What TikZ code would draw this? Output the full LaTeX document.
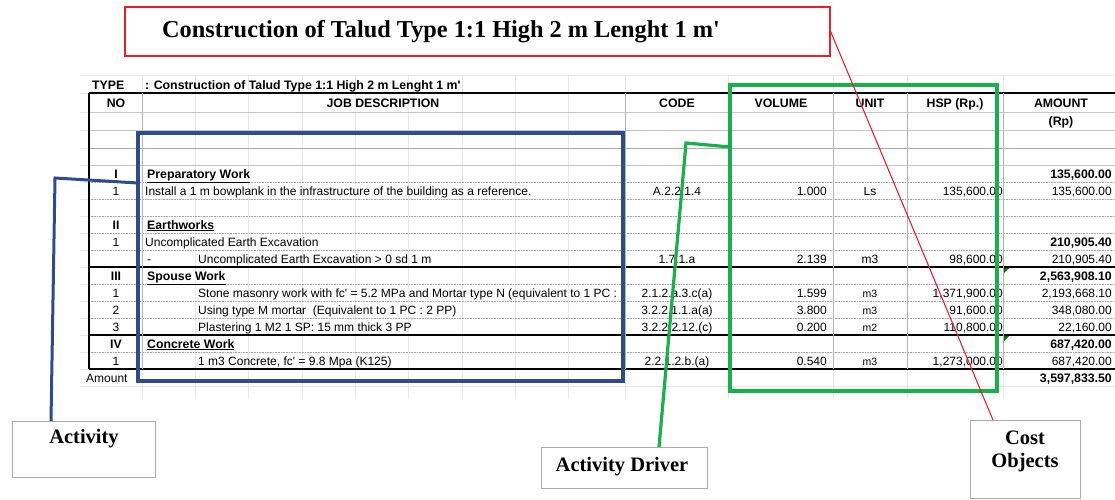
\documentclass[tikz,border=0pt]{standalone}
\usepackage{fontspec}
\setmainfont{Liberation Serif}
\newfontfamily\arialf{Liberation Sans}
\definecolor{bbox}{HTML}{2F4B8A}
\definecolor{gbox}{HTML}{17B04B}
\definecolor{rbox}{HTML}{E8202A}
\begin{document}
\begin{tikzpicture}[x=1pt,y=-1pt,
  tx/.style={font=\arialf\fontsize{12}{13}\selectfont, inner sep=0pt},
  txb/.style={font=\arialf\bfseries\fontsize{12.3}{13}\selectfont, inner sep=0pt},
  txs/.style={font=\arialf\fontsize{10.5}{12}\selectfont, inner sep=0pt},
  faint/.style={gray!18, line width=0.6},
  rowln/.style={gray!45, line width=0.6},
  dotln/.style={gray!70, line width=0.6, dash pattern=on 0.8pt off 0.8pt},
  thickln/.style={black, line width=1.3},
  colln/.style={gray!60, line width=0.8},
  labbox/.style={draw=gray!65, line width=0.9, fill=white, inner sep=0, outer sep=0, anchor=north west},
  labtxt/.style={font=\bfseries\fontsize{20.5}{23}\selectfont, inner sep=0, align=center},
  hl/.style={inner sep=0, outer sep=0, anchor=north west, fill=none},
  cmark/.style={fill=black!55!green}
]
\useasboundingbox (0,0) rectangle (1115,500);
\fill[white] (0,0) rectangle (1115,500);

% faint spreadsheet gridlines
\foreach \x in {142,195,248,302,355,408,462,515,568,625,728,833,907,1003}
  \draw[faint] (\x,75) -- (\x,398);
\foreach \y in {75,93,112,130,148,165,182,199,216,233,250,267,284,301,318,335,352,369,386}
  \draw[faint] (80,\y) -- (1115,\y);

% table rules
\foreach \y in {112,130,165} \draw[rowln] (89,\y) -- (1115,\y);
\draw[gray!65, line width=0.8] (89,148) -- (1115,148);
\foreach \y in {182,199,216,233,250,284,301,318,352} \draw[dotln] (89,\y) -- (1115,\y);
\foreach \y in {267,335,369} \draw[thickln] (89,\y) -- (1115,\y);
\draw[black, line width=1.4] (89,93) -- (1115,93);
\foreach \x in {142,625,728,833,907,1003} \draw[colln] (\x,93) -- (\x,369);
\draw[thickln] (89,93) -- (89,369);

% comment markers
\fill[cmark] (1004,268) -- (1009,268) -- (1004,273) -- cycle;
\fill[cmark] (1004,336) -- (1009,336) -- (1004,341) -- cycle;

% heading above table
\node[txb, anchor=base west] (typel) at (92,90) {TYPE};
\node[txb, anchor=base west] (typev) at (145,90) {: Construction of Talud Type 1:1 High 2 m Lenght 1 m\textquotesingle};

% header row
\node[txb, anchor=base] (hno) at (116,107.5) {NO};
\node[txb, anchor=base] (hjob) at (383,107.5) {JOB DESCRIPTION};
\node[txb, anchor=base] (hcode) at (677,107.5) {CODE};
\node[txb, anchor=base] (hvol) at (781,107.5) {VOLUME};
\node[txb, anchor=base] (hunit) at (870,107.5) {UNIT};
\node[txb, anchor=base] (hhsp) at (955,107.5) {HSP (Rp.)};
\node[txb, anchor=base] (hamt) at (1061,107.5) {AMOUNT};
\node[txb, anchor=base] (hamt2) at (1061,125.5) {(Rp)};

% I Preparatory Work
\node[txb, anchor=base] (n1) at (116,178) {I};
\node[txb, anchor=base west] (d1) at (147,178) {\underline{Preparatory Work}};
\node[txb, anchor=base east] (a1) at (1112,178) {135,600.00};
\node[tx, anchor=base] (n2) at (116,195) {1};
\node[tx, anchor=base west] (d2) at (145,195) {Install a 1 m bowplank in the infrastructure of the building as a reference.};
\node[tx, anchor=base] (c2) at (677,195) {A.2.2.1.4};
\node[tx, anchor=base east] (v2) at (827,195) {1.000};
\node[tx, anchor=base] (u2) at (870,195) {Ls};
\node[tx, anchor=base east] (h2) at (1003,195) {135,600.00};
\node[tx, anchor=base east] (a2) at (1112,195) {135,600.00};

% II Earthworks
\node[txb, anchor=base] (n3) at (116,229) {II};
\node[txb, anchor=base west] (d3) at (147,229) {\underline{Earthworks}};
\node[tx, anchor=base] (n4) at (116,246) {1};
\node[tx, anchor=base west] (d4) at (145,246) {Uncomplicated Earth Excavation};
\node[txb, anchor=base east] (a4) at (1112,246) {210,905.40};
\node[tx, anchor=base west] (n5) at (147,263) {-};
\node[tx, anchor=base west] (d5) at (198,263) {Uncomplicated Earth Excavation > 0 sd 1 m};
\node[tx, anchor=base] (c5) at (677,263) {1.7.1.a};
\node[tx, anchor=base east] (v5) at (827,263) {2.139};
\node[tx, anchor=base] (u5) at (870,263) {m3};
\node[tx, anchor=base east] (h5) at (1003,263) {98,600.00};
\node[tx, anchor=base east] (a5) at (1112,263) {210,905.40};

% III Spouse Work
\node[txb, anchor=base] (n6) at (116,280) {III};
\node[txb, anchor=base west] (d6) at (147,280) {\underline{Spouse Work}};
\node[txb, anchor=base east] (a6) at (1112,280) {2,563,908.10};
\node[tx, anchor=base] (n7) at (116,297) {1};
\node[tx, anchor=base west] (d7) at (198,297) {Stone masonry work with fc\textquotesingle{} = 5.2 MPa and Mortar type N (equivalent to 1 PC :};
\node[tx, anchor=base] (c7) at (677,297) {2.1.2.a.3.c(a)};
\node[tx, anchor=base east] (v7) at (827,297) {1.599};
\node[txs, anchor=base] (u7) at (870,297) {m3};
\node[tx, anchor=base east] (h7) at (1003,297) {1,371,900.00};
\node[tx, anchor=base east] (a7) at (1112,297) {2,193,668.10};
\node[tx, anchor=base] (n8) at (116,314) {2};
\node[tx, anchor=base west] (d8) at (198,314) {Using type M mortar~ (Equivalent to 1 PC : 2 PP)};
\node[tx, anchor=base] (c8) at (677,314) {3.2.2.1.1.a(a)};
\node[tx, anchor=base east] (v8) at (827,314) {3.800};
\node[txs, anchor=base] (u8) at (870,314) {m3};
\node[tx, anchor=base east] (h8) at (1003,314) {91,600.00};
\node[tx, anchor=base east] (a8) at (1112,314) {348,080.00};
\node[tx, anchor=base] (n9) at (116,331) {3};
\node[tx, anchor=base west] (d9) at (198,331) {Plastering 1 M2 1 SP: 15 mm thick 3 PP};
\node[tx, anchor=base] (c9) at (677,331) {3.2.2.2.12.(c)};
\node[tx, anchor=base east] (v9) at (827,331) {0.200};
\node[txs, anchor=base] (u9) at (870,331) {m2};
\node[tx, anchor=base east] (h9) at (1003,331) {110,800.00};
\node[tx, anchor=base east] (a9) at (1112,331) {22,160.00};

% IV Concrete Work
\node[txb, anchor=base] (n10) at (116,348) {IV};
\node[txb, anchor=base west] (d10) at (147,348) {\underline{Concrete Work}};
\node[txb, anchor=base east] (a10) at (1112,348) {687,420.00};
\node[tx, anchor=base] (n11) at (116,365) {1};
\node[tx, anchor=base west] (d11) at (198,365) {1 m3 Concrete, fc\textquotesingle{} = 9.8 Mpa (K125)};
\node[tx, anchor=base] (c11) at (677,365) {2.2.1.2.b.(a)};
\node[tx, anchor=base east] (v11) at (827,365) {0.540};
\node[txs, anchor=base] (u11) at (870,365) {m3};
\node[tx, anchor=base east] (h11) at (1003,365) {1,273,000.00};
\node[tx, anchor=base east] (a11) at (1112,365) {687,420.00};

% Amount row
\node[tx, anchor=base west] (amtl) at (86,382.5) {Amount};
\node[txb, anchor=base east] (amtv) at (1112,382.5) {3,597,833.50};

% highlight rectangles
\node[hl, draw=bbox, line width=3.5, minimum width=485, minimum height=248] (blueR) at (138,133) {};
\node[hl, draw=gbox, line width=3.8, minimum width=267, minimum height=306] (greenR) at (730,85) {};

% title box
\node[hl, draw=rbox, line width=1.6, fill=white, minimum width=705, minimum height=49] (title) at (125,7) {};
\node[font=\bfseries\fontsize{24.3}{27}\selectfont, inner sep=0, anchor=west] (titlet) at (162,32) {Construction of Talud Type 1:1 High 2 m Lenght 1 m\textquotesingle};

% label boxes
\node[labbox, minimum width=143, minimum height=56] (act) at (12,421) {};
\node[labtxt] (actt) at (84,439) {Activity};
\node[labbox, minimum width=166, minimum height=41] (drv) at (541,447) {};
\node[labtxt] (drvt) at (622,467) {Activity Driver};
\node[labbox, minimum width=110, minimum height=78] (cost) at (970,420) {};
\node[labtxt] (costt) at (1025,451) {Cost\\Objects};

% connectors
\coordinate (bj) at (55,178);
\draw[bbox, line width=3] ([xshift=39pt]act.north west) -- (bj) -- ([yshift=-50pt]blueR.north west);
\coordinate (gj) at (686,143);
\draw[gbox, line width=3.2] ([xshift=118pt]drv.north west) -- (gj) -- ([yshift=-62pt]greenR.north west);
\draw[rbox, line width=1.1] ([yshift=1.5pt]title.east) -- ([xshift=23pt]cost.north west);
\end{tikzpicture}
\end{document}
